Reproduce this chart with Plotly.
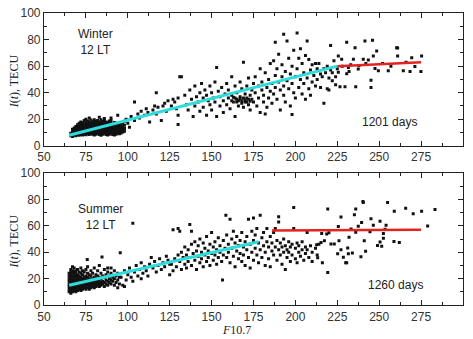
import plotly.graph_objects as go
from plotly.subplots import make_subplots

# ---------------- Winter, 12 LT (F10.7, TEC) ----------------
winter_cluster = [
    (66,7.5),(66,9.5),(67,7),(67,8.8),(67,10.5),(67,12.5),(68,8),(68,9.8),(68,11.6),(68,13.5),
    (69,7.6),(69,9.2),(69,11),(69,12.8),(69,14.6),(70,8.4),(70,10.2),(70,12),(70,13.8),(70,15.8),
    (71,8),(71,9.6),(71,11.4),(71,13.2),(71,15),(71,17),(72,8.6),(72,10.4),(72,12.2),(72,14),(72,16),(72,18),
    (73,8.2),(73,10),(73,11.8),(73,13.6),(73,15.4),(73,17.4),(74,8.8),(74,10.6),(74,12.4),(74,14.4),(74,16.4),(74,19),
    (75,8.4),(75,10.2),(75,12),(75,13.8),(75,15.8),(75,17.8),(75,20),(76,9),(76,10.8),(76,12.6),(76,14.6),(76,16.6),(76,18.6),
    (77,8.6),(77,10.4),(77,12.2),(77,14),(77,16),(77,18),(77,21),(78,9.2),(78,11),(78,12.8),(78,14.8),(78,16.8),(78,19.4),
    (79,8.8),(79,10.6),(79,12.4),(79,14.2),(79,16.2),(79,18.2),(80,8.2),(80,10),(80,11.8),(80,13.6),(80,15.6),(80,17.6),(80,19.6),
    (81,8.8),(81,10.6),(81,12.4),(81,14.4),(81,16.4),(81,18.4),(82,9.4),(82,11.2),(82,13),(82,15),(82,17),(82,19),
    (83,8.6),(83,10.4),(83,12.2),(83,14),(83,16),(83,18),(83,21.5),(84,8),(84,9.8),(84,11.6),(84,13.4),(84,15.4),(84,17.4),(84,19.6),
    (85,8.8),(85,10.6),(85,12.4),(85,14.4),(85,16.4),(85,18.4),(86,9.4),(86,11.2),(86,13),(86,15),(86,17),(86,19),(86,20.5),
    (87,8.6),(87,10.4),(87,12.2),(87,14),(87,16),(87,18),(88,8.2),(88,10),(88,11.8),(88,13.6),(88,15.6),(88,17.6),
    (89,8.8),(89,10.6),(89,12.4),(89,14.4),(89,16.4),(89,18.6),(90,9.4),(90,11.2),(90,13),(90,15),(90,17),(90,19),(90,21),
    (91,8.6),(91,10.4),(91,12.2),(91,14),(91,16),(92,8.2),(92,10),(92,11.8),(92,13.6),(92,15.6),(92,17.6),
    (93,8.8),(93,10.6),(93,12.4),(93,14.4),(93,16.4),(94,9.4),(94,11.2),(94,13),(94,15),(94,17),(94,23),
    (95,9),(95,10.8),(95,12.6),(95,14.6),(95,16.6),(96,9.6),(96,11.4),(96,13.2),(96,15.2),(96,17.4),
    (97,10.4),(97,12.2),(97,14.2),(97,16.4),(98,11),(98,13),(98,15.5),(98,18.5),
]
winter_spread = [
    (99,20),(100,17),(101,14),(102,22),(104,33),(104,19),(106,24),(107,21),(108,26),(110,23),(111,28),(112,25),
    (113,18),(115,27),(116,30),(117,24),(117,40),(118,29),(120,19),(121,30),(122,32),(123,26),(124,34),(126,30),
    (127,35),(128,33),(129,28),(130,36),(130,16),(131,52),(132,52),(130,23),
    (134,38),(135,31),(136,27),(137,42),(138,35),(139,22),(140,45),(140,30),(141,37),(142,33),(143,40),(143,26),
    (144,47),(145,36),(145,29),(146,42),(147,23),(147,38),(148,34),(149,45),(149,31),(150,40),(150,27),(151,36),
    (152,48),(152,33),(153,59),(153,22),(154,41),(155,37),(155,30),(156,44),(157,34),(157,25),(158,39),(159,47),
    (159,31),(160,36),(160,42),(161,28),(162,52),(162,38),(163,33),(164,45),(164,22),(165,40),(165,35),(166,30),
    (167,48),(167,37),(168,34),(168,43),(169,63),(169,29),(170,39),(170,33),(171,45),(171,36),(172,31),(172,51),
    (173,38),(173,27),(174,42),(174,35),(175,33),(175,47),(166,34),(167,35.5),(168,32),(169,36),(170,34.5),(171,33),
    (164,36),(165,33),(172,35),(173,33.5),(162,34),(163,36.5),
    (176,40),(176,52),(177,30),(178,45),(178,36),(179,58),(179,25),(180,42),(180,48),(181,33),(181,38),(182,55),
    (182,24),(183,44),(183,29),(184,50),(184,36),(185,41),(185,62),(186,47),(186,32),(187,64),(187,39),(188,53),
    (188,44),(188,78),(189,35),(189,58),(190,48),(190,69),(191,42),(191,27),(192,52),(192,61),(193,84),(193,45),
    (193,38),(194,56),(194,33),(195,79),(195,49),(196,43),(196,66),(197,54),(197,30),(198,60),(198,47),(198,23.5),
    (199,40),(199,72),(200,52),(200,36),(201,85),(201,58),(202,66),(202,44),(203,50),(203,73),(204,39),(204,62),
    (205,55),(205,47),(206,35),(206,68),(207,79),(207,51),(208,43),(208,65),(209,57),(209,38),(210,48),(210,61),
    (211,53),(212,45),(212,62),(213,58),(213,50),(214,62),(215,54),(215,44),(216,52),(217,58),(217,32),(218,55),
    (219,43),(219,60),(220,51),(220,42),(221,57),(221,75.5),(222,49),(222,55),(223,64),(224,52),(224,46),(225,58),
    (225.6,67.6),(227.6,65.2),(234.6,65.2),(235.6,73.8),(240.5,65.2),(243.5,64.7),(246.5,67.6),(248.5,71.3),
    (260.4,73.8),(261,67.6),(269.4,66.4),(275.3,67.6),(231.6,59),(237.5,57.8),(247.5,58.3),(249.5,56.6),
    (255.4,56.6),(264.4,56.6),(268.4,55.9),(274.9,55.9),(271.3,59.8),(230.6,54.2),(232,56),(225.6,55.4),
    (226.6,44.4),(229.6,44.4),(236,44.4),(245.1,49.3),(245.1,43.9),(230.6,78),(241.5,79),(246,79.5),(261,73.7),
    (228,60),(233,61),(238,60.5),(242,62),(252,62),(257,60),(266,63),
]

# ---------------- Summer, 12 LT (F10.7, TEC) ----------------
summer_cluster = [
    (65,10),(65,12),(65,14),(65,16),(65,18),(65,20),(65,22),(65,24),
    (66,9),(66,11),(66,13),(66,15),(66,17),(66,19),(66,21),(66,23),(66,25),(66,27),
    (67,10),(67,12),(67,14),(67,16),(67,18),(67,20),(67,22),(67,24),(67,26),(67,29),
    (68,11),(68,13),(68,15),(68,17),(68,19),(68,21),(68,23),(68,25),(68,28),
    (69,10),(69,12),(69,14),(69,16),(69,18),(69,20),(69,22),(69,24),(69,26),
    (70,11),(70,13),(70,15),(70,17),(70,19),(70,21),(70,23),(70,27),
    (71,12),(71,14),(71,16),(71,18),(71,20),(71,22),(71,25),
    (72,11),(72,13),(72,15),(72,17),(72,19),(72,21),(72,24),(72,28),
    (73,12),(73,14),(73,16),(73,18),(73,20),(73,23),(73,26),
    (74,13),(74,15),(74,17),(74,19),(74,21),(74,25),
    (75,12),(75,14),(75,16),(75,18),(75,20),(75,22),(75,27),(75.8,34.6),
    (76,13),(76,15),(76,17),(76,19),(76,21),(76,24),(76,29),
    (77,12),(77,14),(77,16),(77,18),(77,20),(77,23),
    (78,13),(78,15),(78,17),(78,19),(78,22),(78,26),
    (79,14),(79,16),(79,18),(79,20),(79,24),
    (80,13),(80,15),(80,17),(80,19),(80,21),(80,28),
    (81,14),(81,16),(81,18),(81,20),(81,23),
    (82,15),(82,17),(82,19),(82,22),(82,26),
    (83,14),(83,16),(83,18),(83,21),(83,30),
    (84,15),(84,17),(84,20),(84,24),(84.6,36.5),
    (85,16),(85,18),(85,22),(86,14),(86,17),(86,21),(86,27),
    (87,16),(87,19),(87,23),(88,15),(88,18),(88,25),(88,28),
    (89,17),(89,20),(89,22),(90,16),(90,19),(90,24),(90,28),
    (91,18),(91,21),(92,15),(92,20),(92,26),(93,17),(93,22),(94,19),(94,24),(94,13),(95,16),(95,21),
]
summer_spread = [
    (95.5,39.6),(96,21),(97,15),(98,14),(98,26),(99,19),(100,23),(101,28),(102,21),(103,62),(103,18),(104,25),
    (105,30),(106,22),(107,27),(108,20),(108,32),(109,24),(110,29),(111,26),(112,22),(113,31),(114,36),
    (115,28),(116,33),(117,25),(118,30),(119,35),(120,27),(121,32),(122,29),(123,37),(124,34),(125,23),(125,31),
    (126,31),(127,26),(127,57),(128,35),(129,29),(130,38),(130,58),(131,33),(131,56),(132,27),(132,40),(133,36),
    (134,31),(134,44),(135,38),(135,28),(136,42),(136,33),(137,61),(137,36),(138,46),(138,30),(138,56),(139,39),
    (140,34),(140,48),(141,41),(141,27),(142,37),(142,45),(143,32),(143,50),(144,40),(144,35),(145,47),(145,29),
    (146,43),(146,38),(147,33),(147,52),(148,41),(148,36),(149,46),(149,30),(150,39),(150,55),(151,44),(151,34),
    (152,48),(152,38),(153,42),(153,31),(154,51),(154,36),(155,45),(155,40),(156,33),(156.5,19),(157,49),(157,38),
    (158,43),(158.5,68),(159,36),(159,53),(160,46),(160,40),(161,65),(161,32),(162,50),(162,43),(163,37),(163,56),
    (164,47),(164,29),(165,41),(165,52),(166,35),(166,45),(167,49),(167,39),(168,33),(168,55),(169,44),(169,38),
    (170,48),(170,30),(171,42),(171,52),(172,36),(172,65),(173,46),(173,28),(174,40),(174,56),(175,49),(175,34),
    (175,66),(176,43),(176,53),(177,38),(177,58),(178,47),(178,32),(179,68),(179,42),(180,51),(180,36),(181,45),
    (181,55),(182,40),(182,30),(183,48),(183,58),(184,35),(184,44),(185,52),(185,29),(186,41),(186,47),(187,38),
    (187,55),(188,44),(188,58),(189,34),(189,49),(190,42),(190,67),(190,63),(191,38),(191,47),(192,44),(192,31),
    (193,40),(193,50),(194,27),(194,45),(195,42),(195,36),(196,48),(196,40),(197,44),(197,33),(198,38),(198,46),
    (199,74),(199,58),(200,43),(200,35),(201,32),(201,47),(202,40),(202,45),(203,37),(204,42),(204,48),(205,34),
    (206,44),(206,39),(207,55),(207,42),(208,36),(209,45),(210,40),(210,33),(212,43),(213,38),(214,46),
    (219.3,72.9),(240.5,77.8),(236,72.9),(235.2,68.4),(227.2,66.7),(255,77.8),(259,71.1),(265.8,73.3),(270.3,69.2),
    (275.3,71.1),(283.3,72.4),(278.9,60),(250.5,63.5),(254.1,60.5),(245.1,65.4),(246.5,60.5),(239.5,62.5),
    (237.5,59.8),(233.2,57.6),(225.6,59.5),(220,54.8),(218.7,53.8),(215.7,54.3),(236,55.1),(244.5,55.6),
    (253.5,57.5),(252.5,54.3),(252.5,50.6),(250.5,47.7),(249,45.2),(251.5,44.5),(258.8,48.2),(262,47.4),
    (241.1,48.7),(232,51.4),(226,48.7),(223.2,46.2),(221.2,46.2),(217.3,48.7),(215.3,47.4),(212.7,45.7),
    (227.2,42),(225.2,38.8),(231.2,43.2),(231.6,38.8),(234,39.5),(239.1,36.6),(241.9,40.8),(228.6,36.3),
    (230,32.1),(216.1,32.1),(213.3,35.8),(219.3,24.7),(230.6,32.1),(240.3,78.5),
]

# fitted lines
winter_fit_f = [65, 225]
winter_fit_tec = [8, 60]
winter_sat_f = [225, 275]
winter_sat_tec = [60, 63]
summer_fit_f = [65, 178]
summer_fit_tec = [15, 48]
summer_sat_f = [186, 275]
summer_sat_tec = [56.5, 57]

x_ticks = [50, 75, 100, 125, 150, 175, 200, 225, 250, 275, 300]
y_ticks = [0, 20, 40, 60, 80, 100]

W, H = 473, 339
ml, mr, mt, mb = 44, 10, 6, 34
ph = H - mt - mb
fig = make_subplots(rows=2, cols=1, vertical_spacing=0.0)
fig.update_layout(
    yaxis=dict(domain=[1 - 136 / ph, 1]),
    yaxis2=dict(domain=[0, 135 / ph]),
)

CYAN = "#2FDCDC"
RED = "#E3231F"
for row, cl, sp, ff, ft, sf, st in [
    (1, winter_cluster, winter_spread, winter_fit_f, winter_fit_tec, winter_sat_f, winter_sat_tec),
    (2, summer_cluster, summer_spread, summer_fit_f, summer_fit_tec, summer_sat_f, summer_sat_tec),
]:
    pts = cl + sp
    fig.add_trace(go.Scatter(
        x=[p[0] for p in pts], y=[p[1] for p in pts], mode="markers",
        marker=dict(symbol="square", size=3, color="#111111", line=dict(width=0)),
        showlegend=False, hoverinfo="skip"), row=row, col=1)
    fig.add_trace(go.Scatter(x=ff, y=ft, mode="lines", line=dict(color=CYAN, width=3),
                             showlegend=False), row=row, col=1)
    fig.add_trace(go.Scatter(x=sf, y=st, mode="lines", line=dict(color=RED, width=2.5),
                             showlegend=False), row=row, col=1)

axis_font = dict(family="Liberation Sans, Arial, sans-serif", size=12, color="#333333")
common = dict(showline=True, linecolor="#222222", linewidth=1.2, mirror="ticks",
              ticks="inside", ticklen=5, tickwidth=1, tickcolor="#222222",
              showgrid=False, zeroline=False, tickfont=axis_font)
fig.update_xaxes(range=[50, 300], tickvals=x_ticks,
                 minor=dict(dtick=12.5, ticks="inside", ticklen=3, tickcolor="#222222", showgrid=False),
                 **common)
fig.update_yaxes(range=[0, 100], tickvals=y_ticks,
                 minor=dict(dtick=10, ticks="inside", ticklen=3, tickcolor="#222222", showgrid=False),
                 **common)
fig.update_xaxes(showticklabels=True, row=1, col=1)


def px_to_paper(px, py):
    return (px - ml) / (W - ml - mr), 1 - (py - mt) / ph


ann_font = dict(family="Liberation Sans, Arial, sans-serif", size=12, color="#222222")
serif = dict(family="Liberation Serif, Times New Roman, serif", size=12, color="#222222")
annotations = [
    dict(x=81, y=78, xref="x", yref="y", text="Winter<br>12 LT", showarrow=False, font=ann_font, align="center"),
    dict(x=256, y=17.6, xref="x", yref="y", text="1201 days", showarrow=False, font=ann_font),
    dict(x=84, y=66.5, xref="x2", yref="y2", text="Summer<br>12 LT", showarrow=False, font=ann_font, align="center"),
    dict(x=260, y=14.8, xref="x2", yref="y2", text="1260 days", showarrow=False, font=ann_font),
]
for (px, py, txt, ang) in [(14, 76, "<i>I</i>(<i>t</i>), TECU", -90),
                           (14, 240, "<i>I</i>(<i>t</i>), TECU", -90),
                           (236, 331, "<i>F</i>10.7", 0)]:
    xx, yy = px_to_paper(px, py)
    annotations.append(dict(x=xx, y=yy, xref="paper", yref="paper", text=txt, showarrow=False,
                            font=serif, textangle=ang, xanchor="center", yanchor="middle"))

fig.update_layout(
    width=W, height=H, margin=dict(l=ml, r=mr, t=mt, b=mb),
    paper_bgcolor="white", plot_bgcolor="white",
    annotations=annotations,
)
fig.write_html("out.html", config={"displayModeBar": False},
               post_script="document.body.style.margin='0px';document.body.style.overflow='hidden';")
